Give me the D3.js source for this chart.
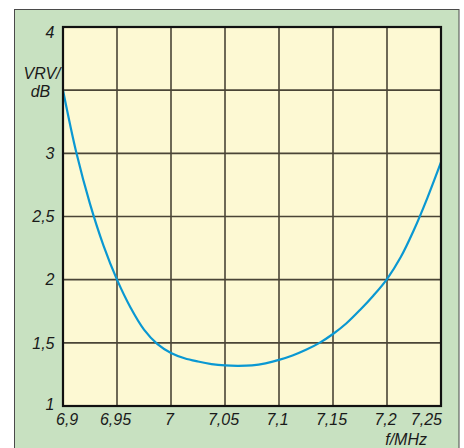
<!DOCTYPE html>
<html><head><meta charset="utf-8">
<script src="https://cdn.jsdelivr.net/npm/d3@7"></script>
<style>body{margin:0;background:#fff}svg{display:block}text{font-family:"Liberation Sans",Arial,sans-serif;font-style:italic;font-size:16px;fill:#1a1a1a}</style>
</head><body>
<script>
// Data
const freqMHz = [6.900, 6.9125, 6.925, 6.9375, 6.950, 6.9625, 6.975, 6.9875, 7.000, 7.0125, 7.025, 7.0375, 7.050, 7.0625, 7.075, 7.0875, 7.100, 7.1125, 7.125, 7.1375, 7.150, 7.1625, 7.175, 7.1875, 7.200, 7.2125, 7.225, 7.2375, 7.250];
const vrvDb   = [3.50,  3.00,   2.60,  2.27,   2.00,  1.78,   1.605, 1.49,   1.42,  1.378,  1.352, 1.332,  1.321, 1.318,  1.322, 1.338,  1.365, 1.40,   1.445, 1.50,   1.57,  1.655,  1.76,  1.875,  2.005, 2.175,  2.395, 2.65,   2.93];
const xTicks = [6.9, 6.95, 7, 7.05, 7.1, 7.15, 7.2, 7.25];
const yTicks = [1, 1.5, 2, 2.5, 3, 3.5, 4];
const yTickLabels = [1, 1.5, 2, 2.5, 3, 4];
const yTitle = ["VRV/", "dB"];
const xTitle = "f/MHz";

const W = 464, H = 448;
const svg = d3.select("body").append("svg").attr("width", W).attr("height", H);
const L = 63, R = 441, T = 27, B = 406;
const x = d3.scaleLinear().domain([6.9, 7.25]).range([L, R]);
const y = d3.scaleLinear().domain([1, 4]).range([B, T]);
const fmt = v => String(v).replace(".", ",");

// panel
svg.append("rect").attr("x", 14.5).attr("y", 9.5).attr("width", 444.5).attr("height", 450)
  .attr("fill", "#c8e1c1").attr("stroke", "#4a4a4a").attr("stroke-width", 1);
svg.append("rect").attr("x", L).attr("y", T).attr("width", R - L).attr("height", B - T)
  .attr("fill", "#fdf9d3");

// grid
const grid = svg.append("g").attr("stroke", "#4a4536").attr("stroke-width", 1.6);
grid.selectAll("line.v").data(xTicks.filter(d => d > 6.9 && d < 7.25)).join("line")
  .attr("x1", d => x(d)).attr("x2", d => x(d)).attr("y1", T).attr("y2", B);
grid.selectAll("line.h").data(yTicks.filter(d => d > 1 && d < 4)).join("line")
  .attr("class", "h").attr("x1", L).attr("x2", R).attr("y1", d => y(d)).attr("y2", d => y(d));

// curve
const pts = freqMHz.map((f, i) => [x(f), y(vrvDb[i])]);
svg.append("path").attr("d", d3.line().curve(d3.curveCatmullRom.alpha(0.5))(pts))
  .attr("fill", "none").attr("stroke", "#0a98d2").attr("stroke-width", 2.2);

// frame
svg.append("rect").attr("x", L).attr("y", T).attr("width", R - L).attr("height", B - T)
  .attr("fill", "none").attr("stroke", "#111").attr("stroke-width", 2.2);

// y labels
svg.selectAll("text.yl").data(yTickLabels).join("text")
  .attr("x", 54.5).attr("text-anchor", "end")
  .attr("y", d => y(d) + 5.8 + (d === 4 ? 5 : 0) + (d === 1 ? -2 : 0))
  .text(fmt);
svg.append("text").attr("x", 42).attr("y", 79).attr("text-anchor", "middle").text(yTitle[0]);
svg.append("text").attr("x", 40.5).attr("y", 96.5).attr("text-anchor", "middle").text(yTitle[1]);

// x labels
svg.selectAll("text.xl").data(xTicks).join("text")
  .attr("y", 425)
  .attr("x", d => d === 6.9 ? 56 : d === 7.25 ? 442 : x(d) - 1.5)
  .attr("text-anchor", d => d === 6.9 ? "start" : d === 7.25 ? "end" : "middle")
  .text(fmt);
svg.append("text").attr("x", 427).attr("y", 445).attr("text-anchor", "end").text(xTitle);
</script>
</body></html>
